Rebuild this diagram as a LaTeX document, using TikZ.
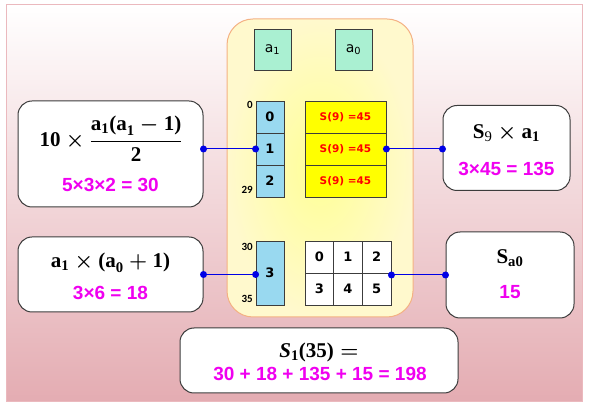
\documentclass[tikz,border=0pt]{standalone}
\usepackage{amsmath}
\usepackage{fontspec}
\newfontfamily\arialf{Liberation Sans}
\newfontfamily\tahf{DejaVu Sans}
\newfontfamily\calf{Carlito}
\newfontfamily\cambf{Liberation Serif}
\newcommand\cb[1]{\text{\cambf\bfseries #1}}
\newcommand\cbi[1]{\text{\cambf\bfseries\itshape #1}}
\definecolor{bgpink}{RGB}{228,172,178}
\definecolor{bgmid}{RGB}{242,220,220}
\definecolor{bordpink}{RGB}{235,185,190}
\definecolor{yin}{RGB}{255,255,150}
\definecolor{yout}{RGB}{255,249,205}
\definecolor{yborder}{RGB}{244,177,131}
\definecolor{mint}{RGB}{170,240,210}
\definecolor{lblue}{RGB}{153,217,240}
\definecolor{tyel}{RGB}{255,255,0}
\definecolor{mag}{RGB}{240,0,240}
\definecolor{cblue}{RGB}{0,0,230}
\definecolor{dgray}{RGB}{60,60,60}
\tikzset{
  whitebox/.style={draw=dgray,line width=1pt,fill=white,rounded corners=14pt,inner sep=0pt},
  gbox/.style={draw=dgray,line width=0.8pt,fill=mint,minimum width=37pt,minimum height=41pt,inner sep=0pt,font=\tahf\fontsize{14}{16}\selectfont},
  bcell/.style={draw=dgray,line width=0.8pt,fill=lblue,minimum width=28pt,minimum height=32pt,inner sep=0pt,font=\tahf\bfseries\fontsize{13}{15}\selectfont},
  ycell/.style={draw=dgray,line width=0.8pt,fill=tyel,minimum width=81pt,minimum height=32pt,inner sep=0pt,text=red,font=\tahf\bfseries\fontsize{10.5}{12}\selectfont},
  gcell/.style={draw=dgray,line width=0.8pt,fill=white,minimum width=28.7pt,minimum height=32pt,inner sep=0pt,font=\tahf\bfseries\fontsize{13}{15}\selectfont},
  small/.style={anchor=east,inner sep=0pt,font=\calf\bfseries\fontsize{11}{13}\selectfont},
  mtext/.style={inner sep=0pt,font=\fontsize{21}{24}\selectfont\boldmath},
  magtext/.style={inner sep=0pt,text=mag,font=\arialf\bfseries\fontsize{19}{21}\selectfont},
  conn/.style={draw=cblue,line width=1pt},
  dot/.style={fill=cblue}
}
\begin{document}
\begin{tikzpicture}[x=1pt,y=-1pt]
\useasboundingbox (0,0) rectangle (592,411);
% background
\shade[top color=white, middle color=bgmid, bottom color=bgpink] (6,5) rectangle (582,402);
\draw[bordpink,line width=1pt] (6,5) rectangle (582,402);
% central yellow panel
\shade[rounded corners=26pt, inner color=yin, outer color=yout] (227,19) rectangle (413,317);
\draw[yborder,line width=1pt,rounded corners=26pt] (227,19) rectangle (413,317);
% green boxes
\node[gbox] (a1) at (272.5,49.5) {a\textsubscript{1}};
\node[gbox] (a0) at (353.5,49.5) {a\textsubscript{0}};
% blue column
\node[bcell] (b0) at (270,117) {0};
\node[bcell] (b1) at (270,149) {1};
\node[bcell] (b2) at (270,181) {2};
\node[bcell,minimum height=64pt] (b3) at (270,273) {3};
% yellow table
\node[ycell] (t0) at (345.5,117) {S(9) =45};
\node[ycell] (t1) at (345.5,149) {S(9) =45};
\node[ycell] (t2) at (345.5,181) {S(9) =45};
% grid
\node[gcell] (g00) at (319.3,257) {0};
\node[gcell] (g01) at (348,257) {1};
\node[gcell] (g02) at (376.7,257) {2};
\node[gcell] (g10) at (319.3,289) {3};
\node[gcell] (g11) at (348,289) {4};
\node[gcell] (g12) at (376.7,289) {5};
% small labels
\node[small] (l0) at (253,105) {0};
\node[small] (l29) at (253,190) {29};
\node[small] (l30) at (253,247) {30};
\node[small] (l35) at (253,299) {35};
% white boxes
\node[whitebox,minimum width=185pt,minimum height=106pt] (L1) at (110.5,154) {};
\node[whitebox,minimum width=127pt,minimum height=85pt] (R1) at (506.5,148) {};
\node[whitebox,minimum width=185pt,minimum height=75pt] (L2) at (110.5,274.5) {};
\node[whitebox,minimum width=128pt,minimum height=86pt] (R2) at (510,275) {};
\node[whitebox,minimum width=278pt,minimum height=65pt] (B) at (319,360.5) {};
% texts
\node[mtext] (L1m) at (111,139) {$\cb{10}\times\dfrac{\cb{a}_{\cb{1}}\cb{(a}_{\cb{1}}-\cb{1)}}{\cb{2}}$};
\node[magtext] (L1n) at (110.5,185) {5×3×2 = 30};
\node[mtext] (R1m) at (506.5,133) {$\cb{S}_{\text{\cambf 9}}\times\cb{a}_{\cb{1}}$};
\node[magtext] (R1n) at (506.5,169) {3×45 = 135};
\node[mtext] (L2m) at (110.5,263) {$\cb{a}_{\cb{1}}\times\cb{(a}_{\cb{0}}+\cb{1)}$};
\node[magtext] (L2n) at (110.5,293) {3×6 = 18};
\node[mtext] (R2m) at (510,258) {$\cb{S}_{\cb{a0}}$};
\node[magtext] (R2n) at (510,292) {15};
\node[mtext] (Bm) at (319,352) {$\cbi{S}_{\cb{1}}\cb{(35)} =$};
\node[magtext] (Bn) at (320,374) {30 + 18 + 135 + 15 = 198};
% connectors
\draw[conn] (L1.east |- b1.west) -- (b1.west);
\fill[dot] (L1.east |- b1.west) circle (3.5);
\fill[dot] (b1.west) circle (3.5);
\draw[conn] (t1.east) -- (t1.east -| R1.west);
\fill[dot] (t1.east) circle (3.5);
\fill[dot] (t1.east -| R1.west) circle (3.5);
\draw[conn] (L2.east) -- (L2.east -| b3.west);
\fill[dot] (L2.east) circle (3.5);
\fill[dot] (L2.east -| b3.west) circle (3.5);
\draw[conn] (R2.west -| g12.east) -- (R2.west);
\fill[dot] (R2.west -| g12.east) circle (3.5);
\fill[dot] (R2.west) circle (3.5);
\end{tikzpicture}
\end{document}
